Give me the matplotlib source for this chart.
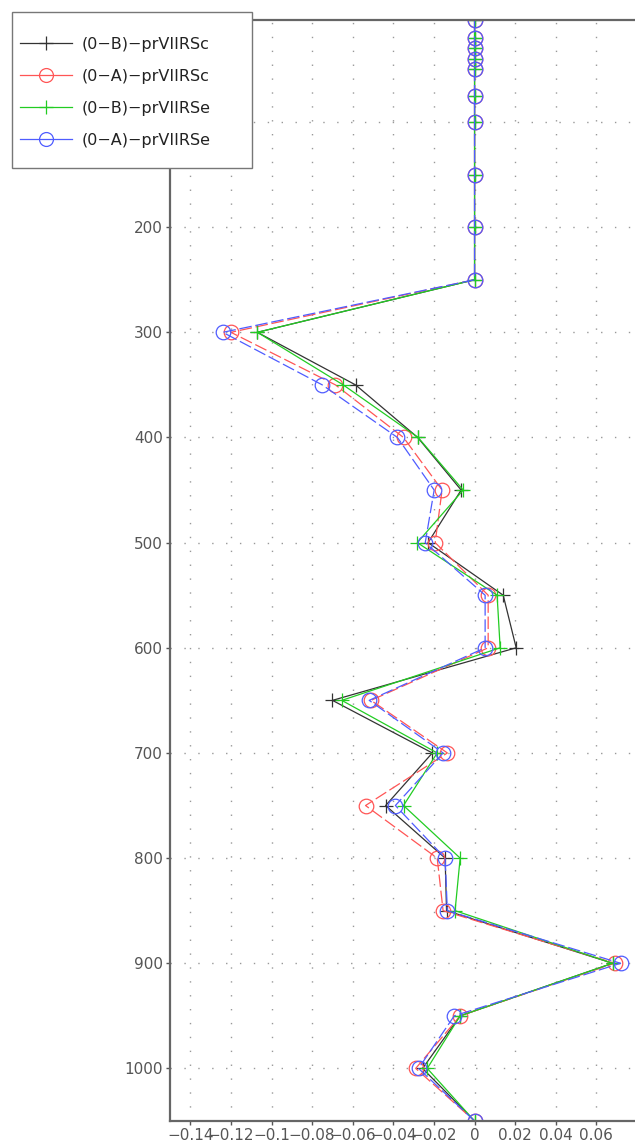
import matplotlib
matplotlib.use("Agg")
import matplotlib.pyplot as plt
from matplotlib.lines import Line2D
from matplotlib.patches import Rectangle
from matplotlib.legend_handler import HandlerLine2D

# Pressure levels (hPa)
levels = [3, 20, 30, 40, 50, 75, 100, 150, 200, 250, 300, 350, 400, 450, 500,
          550, 600, 650, 700, 750, 800, 850, 900, 950, 1000, 1050]

upper_zeros = [0.0] * 10  # levels 3 .. 250

ob_c = upper_zeros + [-0.107, -0.0586, -0.028, -0.0066, -0.0229, 0.0141, 0.0205,
                      -0.070, -0.0208, -0.0438, -0.0145, -0.0138, 0.068, -0.0071,
                      -0.0256, 0.0]
oa_c = upper_zeros + [-0.120, -0.0685, -0.035, -0.016, -0.0194, 0.0067, 0.0067,
                      -0.051, -0.0134, -0.0537, -0.0184, -0.0155, 0.069, -0.0071,
                      -0.029, 0.0]
ob_e = upper_zeros + [-0.107, -0.0647, -0.0278, -0.0056, -0.0282, 0.0111, 0.0126,
                      -0.0654, -0.0184, -0.035, -0.0071, -0.0096, 0.068, -0.0071,
                      -0.0233, 0.0]
oa_e = upper_zeros + [-0.124, -0.075, -0.038, -0.0199, -0.0243, 0.0052, 0.0052,
                      -0.0519, -0.0155, -0.039, -0.0145, -0.0134, 0.0719, -0.0100,
                      -0.0276, 0.0]

labels = ["(0\u2212B)\u2212prVIIRSc", "(0\u2212A)\u2212prVIIRSc",
          "(0\u2212B)\u2212prVIIRSe", "(0\u2212A)\u2212prVIIRSe"]

xticks = [-0.14, -0.12, -0.1, -0.08, -0.06, -0.04, -0.02, 0, 0.02, 0.04, 0.06]
xticklabels = ["\u22120.14", "\u22120.12", "\u22120.1", "\u22120.08", "\u22120.06",
               "\u22120.04", "\u22120.02", "0", "0.02", "0.04", "0.06"]
yticks = [100, 200, 300, 400, 500, 600, 700, 800, 900, 1000]

W, H = 635, 1148
fig = plt.figure(figsize=(W / 100, H / 100), dpi=100)
ax = fig.add_axes([170 / W, 27 / H, 467 / W, (1121 - 20) / H])

c_black = "#333333"
c_red = "#ff5555"
c_green = "#22cc22"
c_blue = "#4f5cff"
dash = (0, (10, 3))

l1, = ax.plot(ob_c, levels, color=c_black, lw=0.9, marker="+", ms=10, mew=0.9)
l2, = ax.plot(oa_c, levels, color=c_red, lw=0.9, ls=dash, marker="o", ms=10.5,
              mfc="none", mew=0.9)
l3, = ax.plot(ob_e, levels, color=c_green, lw=0.9, marker="+", ms=10, mew=0.9)
l4, = ax.plot(oa_e, levels, color=c_blue, lw=0.9, ls=dash, marker="o", ms=10.5,
              mfc="none", mew=0.9)

ax.set_xlim(-0.15, 0.08)
ax.set_ylim(1050, 3)
ax.set_xticks(xticks)
ax.set_xticklabels(xticklabels)
ax.set_yticks(yticks)
ax.set_yticklabels([str(v) for v in yticks])
ax.tick_params(axis="both", direction="out", length=3, width=1, color="#555555",
               labelsize=11, labelcolor="#555555", pad=2)

ax.grid(True, color="#999999", lw=1.0, ls=(0, (1, 9)))
ax.set_axisbelow(True)

for s in ("left", "bottom", "top"):
    ax.spines[s].set_color("#666666")
    ax.spines[s].set_linewidth(1.6)
ax.spines["right"].set_visible(False)


class InsetMarkerHandler(HandlerLine2D):
    def get_xdata(self, legend, xdescent, ydescent, width, height, fontsize):
        inset = 6.5
        return ([-xdescent, -xdescent + width],
                [-xdescent + inset, -xdescent + width - inset])


handles = [
    Line2D([], [], color=c_black, lw=0.9, marker="+", ms=10, mew=0.9),
    Line2D([], [], color=c_red, lw=0.9, marker="o", ms=10, mfc="none", mew=0.9),
    Line2D([], [], color=c_green, lw=0.9, marker="+", ms=10, mew=0.9),
    Line2D([], [], color=c_blue, lw=0.9, marker="o", ms=10, mfc="none", mew=0.9),
]

frame = Rectangle((12 / W, 1 - 168 / H), 240 / W, 156 / H,
                  transform=fig.transFigure, facecolor="white",
                  edgecolor="#777777", lw=1.0, zorder=4)
fig.patches.append(frame)

leg = fig.legend(handles, labels, loc="upper left",
                 bbox_to_anchor=(20 / W, 1 - 37 / H), borderaxespad=0,
                 handler_map={Line2D: InsetMarkerHandler()},
                 handlelength=3.25, handletextpad=0.63,
                 labelspacing=1.06, borderpad=0, fontsize=11.5,
                 frameon=False)
leg.set_zorder(5)
for t in leg.get_texts():
    t.set_color("#222222")

fig.savefig("out.png", dpi=100)
